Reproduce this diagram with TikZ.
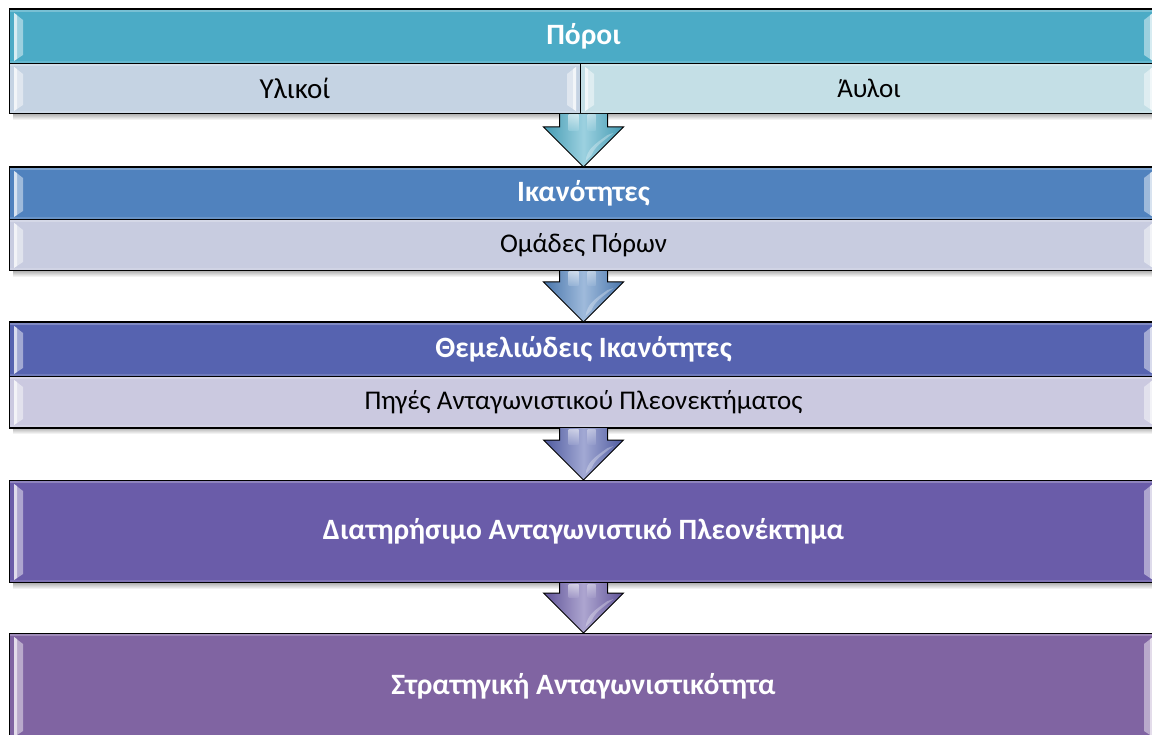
\documentclass[tikz,border=0pt]{standalone}
\usepackage{fontspec}
\setmainfont{Carlito}
\usetikzlibrary{calc}

\definecolor{hdrA}{HTML}{4BABC6}
\definecolor{hdrB}{HTML}{5082BE}
\definecolor{hdrC}{HTML}{5663B0}
\definecolor{hdrD}{HTML}{6A5CA9}
\definecolor{hdrE}{HTML}{8064A2}
\definecolor{subAl}{HTML}{C5D3E3}
\definecolor{subAr}{HTML}{C4DFE6}
\definecolor{subB}{HTML}{C8CCE0}
\definecolor{subC}{HTML}{CBC9E0}

\tikzset{
  band/.style={draw=black, line width=1pt, anchor=north west, inner sep=0pt,
    minimum width=1148pt},
  hdr/.style={band, font=\fontsize{29.5}{32}\selectfont\bfseries, text=white},
  subrow/.style={band, font=\fontsize{27}{30}\selectfont, text=black},
  bevelfill/.style={fill=white, fill opacity=0.45},
  bevelline/.style={fill=white, fill opacity=0.6},
  arrowline/.style={draw=black, line width=1pt, line join=miter},
}

% light chamfered bars at both short ends of a band
\newcommand{\bevel}[1]{%
  \fill[bevelfill] ($(#1.north west)+(5,4)$) -- ($(#1.north west)+(14,11)$)
     -- ($(#1.south west)+(14,-9)$) -- ($(#1.south west)+(5,-3)$) -- cycle;
  \fill[bevelline] ($(#1.north west)+(5,4)$) -- ($(#1.north west)+(8,6)$)
     -- ($(#1.south west)+(8,-5)$) -- ($(#1.south west)+(5,-3)$) -- cycle;
  \fill[white, fill opacity=0.25] ($(#1.north west)+(1,1)$) rectangle ($(#1.north east)+(-1,3)$);
  \fill[white, fill opacity=0.15] ($(#1.south west)+(1,-1)$) rectangle ($(#1.south east)+(-1,-3)$);
}
\newcommand{\bevelright}[1]{%
  \fill[bevelfill] ($(#1.north east)+(-5,4)$) -- ($(#1.north east)+(-14,11)$)
     -- ($(#1.south east)+(-14,-9)$) -- ($(#1.south east)+(-5,-3)$) -- cycle;
  \fill[bevelline] ($(#1.north east)+(-5,4)$) -- ($(#1.north east)+(-8,6)$)
     -- ($(#1.south east)+(-8,-5)$) -- ($(#1.south east)+(-5,-3)$) -- cycle;
}
% soft shadow under a stage
\newcommand{\stageshadow}[1]{%
  \shade[top color=black!30, bottom color=white]
    ($(#1.south west)+(4,0)$) rectangle ($(#1.south east)+(0,6)$);
}
% block arrow from a start point (shaft top) to a tip point
\newcommand{\flowarrow}[4]{%
  \shade[left color=#3, right color=#3, middle color=#4]
    ($(#1)+(-24,0)$) -- ($(#2)+(-24,-40)$) -- ($(#2)+(-40,-40)$) -- (#2)
    -- ($(#2)+(40,-40)$) -- ($(#2)+(24,-40)$) -- ($(#1)+(24,0)$) -- cycle;
  \shade[top color=white, bottom color=#4, opacity=0.55] ($(#1)+(-15,1)$) rectangle ($(#2)+(-5,-36)$);
  \shade[top color=white, bottom color=#4, opacity=0.4] ($(#1)+(4,1)$) rectangle ($(#2)+(12,-36)$);
  \fill[white, fill opacity=0.3] ($(#2)+(24,-32)$) .. controls ($(#2)+(10,-22)$) and ($(#2)+(4,-18)$) .. ($(#2)+(2,-6)$)
     -- ($(#2)+(8,-12)$) .. controls ($(#2)+(12,-20)$) .. ($(#2)+(30,-34)$) -- cycle;
  \draw[arrowline] ($(#1)+(-24,0)$) -- ($(#2)+(-24,-40)$) -- ($(#2)+(-40,-40)$) -- (#2)
    -- ($(#2)+(40,-40)$) -- ($(#2)+(24,-40)$) -- ($(#1)+(24,0)$);
}

\begin{document}
\begin{tikzpicture}[x=1pt, y=-1pt]
\useasboundingbox (0,0) rectangle (1152,735);
\clip (0,0) rectangle (1152,735);

% stage 1: resources
\node[hdr, fill=hdrA, minimum height=54pt] (p) at (9,9) {Πόροι};
\node[subrow, fill=subAl, minimum width=571pt, minimum height=50pt,
      font=\fontsize{29}{32}\selectfont] (pl) at (9,63) {Υλικοί};
\node[subrow, fill=subAr, minimum width=577pt, minimum height=50pt] (pr) at (580,63) {Άυλοι};
\stageshadow{pl}\stageshadow{pr}
\draw[line width=1pt] (p.north west) rectangle (pr.south east);
\bevel{p}\bevelright{p}
\bevel{pl}\bevelright{pl}
\bevel{pr}\bevelright{pr}

% stage 2: capabilities
\node[hdr, fill=hdrB, minimum height=52pt] (k) at (9,167) {Ικανότητες};
\node[subrow, fill=subB, minimum height=51pt] (ko) at (9,219) {Ομάδες Πόρων};
\stageshadow{ko}
\draw[line width=1pt] (k.north west) rectangle (ko.south east);
\bevel{k}\bevelright{k}
\bevel{ko}\bevelright{ko}

% stage 3: core competences
\node[hdr, fill=hdrC, minimum height=54pt] (t) at (9,322) {Θεμελιώδεις Ικανότητες};
\node[subrow, fill=subC, minimum height=51pt] (tp) at (9,376) {Πηγές Ανταγωνιστικού Πλεονεκτήματος};
\stageshadow{tp}
\draw[line width=1pt] (t.north west) rectangle (tp.south east);
\bevel{t}\bevelright{t}
\bevel{tp}\bevelright{tp}

% stage 4: sustainable advantage
\node[hdr, fill=hdrD, minimum height=102pt] (d) at (9,480) {Διατηρήσιμο Ανταγωνιστικό Πλεονέκτημα};
\stageshadow{d}
\bevel{d}\bevelright{d}

% stage 5: strategic competitiveness
\node[hdr, fill=hdrE, minimum height=106pt] (s) at (9,633) {Στρατηγική Ανταγωνιστικότητα};
\bevel{s}\bevelright{s}

% arrows between stages
\coordinate (a1) at (p.center |- pl.south);
\coordinate (a2) at (ko.south);
\coordinate (a3) at (tp.south);
\coordinate (a4) at (d.south);
\flowarrow{a1}{p.center |- k.north}{hdrA!90!black}{hdrA!55!white}
\flowarrow{a2}{t.north}{hdrB!90!black}{hdrB!55!white}
\flowarrow{a3}{d.north}{hdrC!90!black}{hdrC!55!white}
\flowarrow{a4}{s.north}{hdrD!90!black}{hdrD!55!white}
\end{tikzpicture}
\end{document}
